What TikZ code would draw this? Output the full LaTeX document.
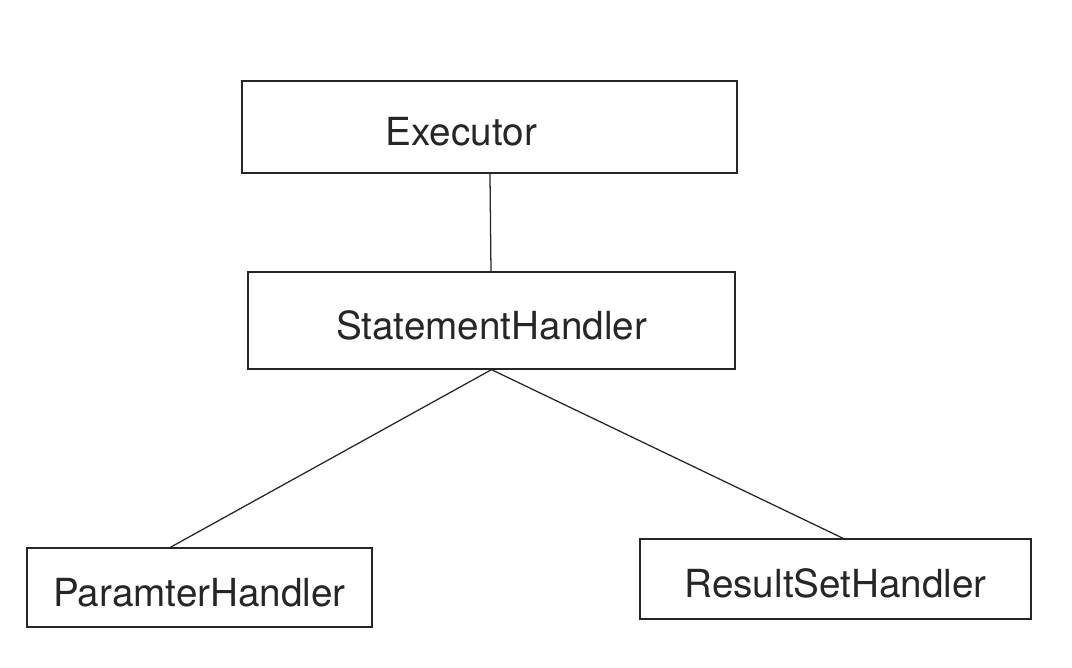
\documentclass[tikz,border=0pt]{standalone}
\usepackage{fontspec}
\setmainfont{TeX Gyre Heros}
\usepackage{xcolor}

\begin{document}
\begin{tikzpicture}[x=0.025cm,y=-0.025cm,
	box/.style={rectangle,draw=black!85,line width=0.9pt,inner sep=0pt,
		text height=27pt,text depth=0pt,
		text=black!85,font=\fontsize{27.5}{33}\selectfont}]
		\useasboundingbox (0,0) rectangle (1072,668);
		\path (489.5,127) node(exec)[box,minimum width=12.375cm,minimum height=2.3cm] {\hspace*{-1.4cm}Executor}
		(491.5,320.5) node(stmt)[box,minimum width=12.175cm,minimum height=2.425cm] {StatementHandler}
		(199.5,587.5) node(param)[box,minimum width=8.625cm,minimum height=1.975cm] {ParamterHandler}
		(835.5,579) node(result)[box,minimum width=9.775cm,minimum height=2cm] {ResultSetHandler};
		\draw[line width=0.9pt,black!85] (exec)--(stmt);
		\draw[line width=0.9pt,black!85] (stmt.south)--([xshift=-0.73cm]param.north);
		\draw[line width=0.9pt,black!85] (stmt.south)--([xshift=0.19cm]result.north);
	\end{tikzpicture}
\end{document}
